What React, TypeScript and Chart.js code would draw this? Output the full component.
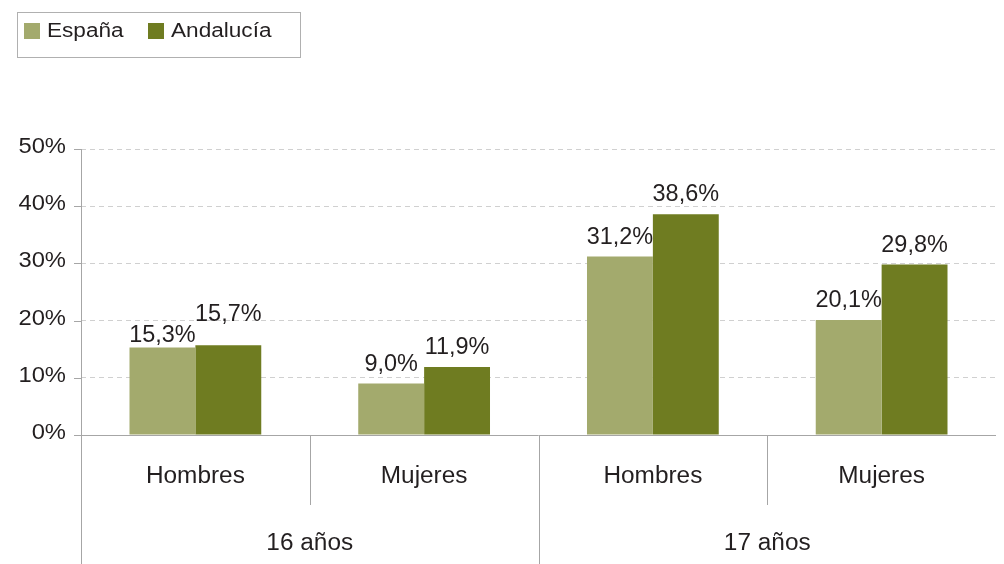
import React, { useEffect, useRef } from "react";
import { Chart, registerables } from "chart.js";

Chart.register(...registerables);

const categories = ["Hombres", "Mujeres", "Hombres", "Mujeres"];
const groups = ["16 años", "17 años"];
const espana = [15.3, 9.0, 31.2, 20.1];
const andalucia = [15.7, 11.9, 38.6, 29.8];
const seriesNames = ["España", "Andalucía"];
const colors = ["#A3AA6D", "#6F7C21"];
const yTicks = [0, 10, 20, 30, 40, 50];

const FONT = "'Liberation Sans', Arial, sans-serif";
const TEXT = "#231F20";
const AXIS = "#A6A6A6";

function textS(ctx: any, s: string, x: number, y: number, align: string, base: string, stretch: number) {
  ctx.save();
  ctx.translate(x, y);
  ctx.scale(stretch, 1);
  ctx.textAlign = align;
  ctx.textBaseline = base;
  ctx.fillText(s, 0, 0);
  ctx.restore();
}

// label offset (px above bar top) per dataset / category, to avoid overlapping labels
function labelGap(di: number, i: number) {
  if (i === 0) return di === 0 ? 5 : 24;
  return 13;
}

const decor = {
  id: "decor",
  afterDraw(chart: any) {
    const { ctx, chartArea } = chart;
    const { left, right, top, bottom } = chartArea;
    const H = chart.height;
    ctx.save();
    ctx.strokeStyle = AXIS;
    ctx.lineWidth = 1;
    ctx.setLineDash([]);
    ctx.beginPath();
    ctx.moveTo(left + 0.5, top);
    ctx.lineTo(left + 0.5, H);
    ctx.moveTo(left, Math.round(bottom) + 0.5);
    ctx.lineTo(right, Math.round(bottom) + 0.5);
    const ys = chart.scales.y;
    yTicks.forEach((t) => {
      const y = Math.round(ys.getPixelForValue(t)) + 0.5;
      ctx.moveTo(left - 7, y);
      ctx.lineTo(left, y);
    });
    const n = categories.length;
    const w = (right - left) / n;
    for (let i = 1; i < n; i++) {
      const x = Math.round(left + i * w) + 0.5;
      const isGroup = i % 2 === 0;
      ctx.moveTo(x, bottom);
      ctx.lineTo(x, isGroup ? H : bottom + 70);
    }
    ctx.stroke();

    ctx.fillStyle = TEXT;
    // y tick labels
    ctx.font = `22px ${FONT}`;
    yTicks.forEach((t) => {
      textS(ctx, t + "%", left - 15, ys.getPixelForValue(t) - 2, "right", "middle", 1.08);
    });
    // category labels
    ctx.font = `23px ${FONT}`;
    categories.forEach((c, i) => {
      textS(ctx, c, left + (i + 0.5) * w, bottom + 42, "center", "middle", 1.06);
    });
    groups.forEach((g, i) => {
      textS(ctx, g, left + (i * 2 + 1) * w, bottom + 109, "center", "middle", 1.06);
    });

    // data labels
    chart.data.datasets.forEach((ds: any, di: number) => {
      const meta = chart.getDatasetMeta(di);
      meta.data.forEach((bar: any, i: number) => {
        const v = ds.data[i];
        textS(ctx, v.toFixed(1).replace(".", ",") + "%", bar.x, bar.y - labelGap(di, i), "center", "alphabetic", 1.02);
      });
    });

    // legend
    ctx.strokeStyle = "#B0B0B0";
    ctx.strokeRect(17.5, 12.5, 283, 45);
    ctx.font = `20px ${FONT}`;
    const lx = [24, 148];
    seriesNames.forEach((s, i) => {
      ctx.fillStyle = colors[i];
      ctx.fillRect(lx[i], 23, 16, 16);
      ctx.fillStyle = TEXT;
      textS(ctx, s, lx[i] + 23, 31, "left", "middle", 1.13);
    });
    ctx.restore();
  },
};

export default function App() {
  const ref = useRef<HTMLCanvasElement>(null);
  useEffect(() => {
    document.body.style.margin = "0";
    const chart = new Chart(ref.current!, {
      type: "bar",
      data: {
        labels: categories,
        datasets: [
          { label: seriesNames[0], data: espana, backgroundColor: colors[0] },
          { label: seriesNames[1], data: andalucia, backgroundColor: colors[1] },
        ],
      },
      options: {
        responsive: false,
        animation: false,
        layout: { padding: { top: 149, bottom: 129, right: 8, left: 0 } },
        datasets: { bar: { categoryPercentage: 0.576, barPercentage: 1 } },
        plugins: { legend: { display: false }, tooltip: { enabled: false } },
        scales: {
          x: { display: false },
          y: {
            min: 0,
            max: 50,
            afterFit: (s: any) => {
              s.width = 81;
            },
            ticks: { stepSize: 10, display: false },
            grid: {
              drawTicks: false,
              color: (c: any) => (c.tick && c.tick.value === 0 ? "rgba(0,0,0,0)" : "#D0D0D0"),
            },
            border: { display: false, dash: [5, 4] },
          },
        },
      },
      plugins: [decor],
    });
    return () => chart.destroy();
  }, []);
  return (
    <div style={{ width: 1004, height: 564 }}>
      <canvas ref={ref} width={1004} height={564} />
    </div>
  );
}
